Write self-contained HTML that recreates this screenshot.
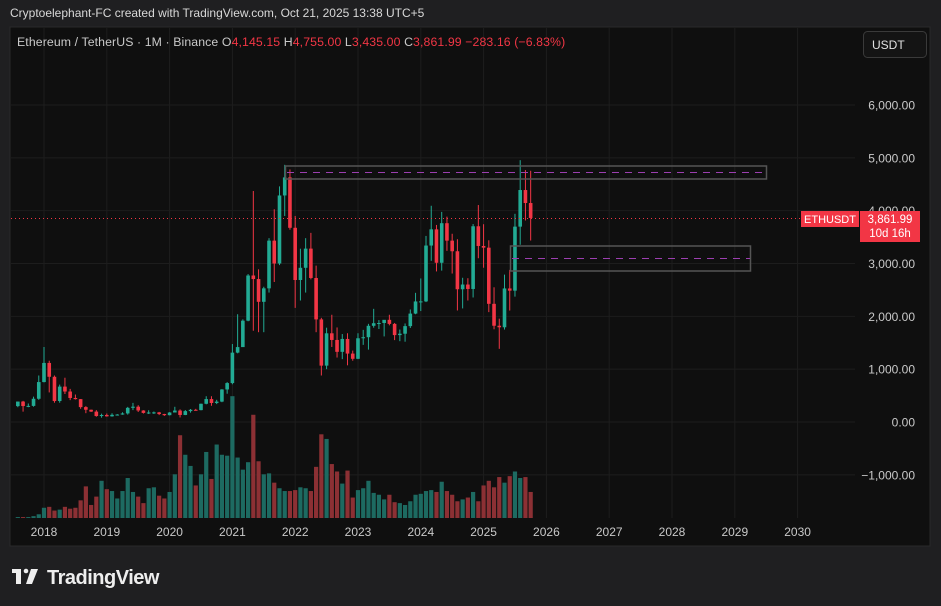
<!DOCTYPE html>
<html><head><meta charset="utf-8"><style>
html,body{margin:0;padding:0;background:#1f1f21;width:941px;height:606px;overflow:hidden;font-family:"Liberation Sans",sans-serif}
#top{position:absolute;left:10px;top:6px;color:#d8d8d8;font-size:12px}
svg{position:absolute;left:0;top:0}
</style></head><body>
<div id="top">Cryptoelephant-FC created with TradingView.com, Oct 21, 2025 13:38 UTC+5</div>
<svg id="s" width="941" height="606" xmlns="http://www.w3.org/2000/svg" font-family="Liberation Sans, sans-serif"></svg>
<script>
const s=document.getElementById('s');let h='';
h+='<rect x="10" y="27" width="920" height="519" fill="#0f0f0f" stroke="#2a2a2a"/>';
const X=m=>44+m*5.233, Y=p=>422-p*0.05283;
for(let k=0;k<13;k++){const x=44+k*62.8;h+=`<line x1="${x}" y1="28" x2="${x}" y2="518" stroke="#1d1d1d"/>`;}
for(let p=-1000;p<=6000;p+=1000){const y=Y(p);h+=`<line x1="11" y1="${y}" x2="855" y2="${y}" stroke="#1d1d1d"/>`;
 h+=`<text x="915" y="${y+4.5}" fill="#c9c9c9" font-size="12" text-anchor="end">${p<0?'−1,000.00':(p/1000).toFixed(0)+(p?',000.00':'.00')}</text>`;}
['2018','2019','2020','2021','2022','2023','2024','2025','2026','2027','2028','2029','2030'].forEach((t,k)=>{h+=`<text x="${44+k*62.8}" y="536" fill="#c9c9c9" font-size="12" text-anchor="middle">${t}</text>`});
const c=[[301,388,280,387],[387,400,196,302],[302,350,280,305],[305,480,290,440],[440,880,420,756],
[756,1420,750,1118],[1118,1160,560,856],[856,880,365,397],[397,708,365,670],[670,838,530,577],[577,627,414,455],[455,520,425,433],[433,435,250,282],[282,300,167,232],[232,235,190,197],[197,225,100,113],[113,158,82,133],
[133,160,101,107],[107,165,101,136],[136,150,122,141],[141,184,137,162],[162,286,140,268],[268,362,225,290],[290,318,190,218],[218,224,160,172],[172,222,151,180],[180,198,152,182],[182,191,131,151],[151,155,116,129],
[129,187,126,180],[180,288,214,217],[217,239,86,133],[133,227,130,206],[206,246,177,231],[231,249,215,225],[225,348,221,345],[345,488,335,434],[434,488,307,360],[360,420,339,386],[386,622,375,616],[616,755,535,737],
[737,1476,714,1313],[1313,2040,1300,1418],[1418,1943,1431,1918],[1918,2800,1907,2773],[2773,4372,1728,2706],[2706,2890,1700,2275],[2275,2560,1700,2530],[2530,3480,2450,3433],[3433,4027,2650,3000],[3000,4460,2970,4288],[4288,4868,3900,4630],[4630,4780,3640,3676],
[3676,3900,2160,2688],[2688,3280,2300,2919],[2919,3480,2450,3282],[3282,3580,2700,2726],[2726,2960,1700,1942],[1942,1972,880,1067],[1067,1785,1000,1679],[1679,2030,1420,1553],[1553,1790,1220,1328],[1328,1665,1190,1572],[1572,1680,1073,1295],[1295,1352,1160,1196],
[1196,1680,1190,1585],[1585,1744,1460,1605],[1605,1858,1370,1821],[1821,2142,1785,1870],[1870,1929,1760,1874],[1874,1930,1620,1934],[1934,2030,1830,1857],[1857,1875,1550,1645],[1645,1750,1530,1671],[1671,1865,1520,1815],[1815,2130,1780,2052],[2052,2445,2040,2282],
[2282,2717,2100,2283],[2283,3522,2270,3340],[3340,4093,3050,3647],[3647,3730,2850,3014],[3014,3977,2865,3763],[3763,3887,3240,3433],[3433,3563,2810,3232],[3232,3460,2111,2513],[2513,2730,2150,2602],[2602,2722,2300,2518],[2518,3747,2357,3705],[3705,4107,3100,3332],
[3332,3744,2920,3300],[3300,3440,2080,2237],[2237,2550,1755,1822],[1822,1956,1385,1793],[1793,2790,1750,2528],[2528,2880,2110,2486],[2486,3941,2373,3698],[3698,4956,3355,4391],[4391,4769,3815,4145],[4145,4755,3435,3862]];
const v=[1,1,1,2,4,11,12,8,9,12,10,11,19,34,14,23,40,31,29,21,29,43,28,23,16,32,33,24,21,28,47,89,68,56,35,47,71,42,79,68,67,131,65,52,60,111,61,47,48,38,32,29,29,30,33,32,29,55,90,85,58,50,37,51,22,30,32,40,27,25,20,25,17,16,14,18,25,26,29,30,28,39,29,25,18,20,22,28,18,35,40,33,44,38,45,50,43,44,28];
c.forEach((d,i)=>{const m=i-5,x=X(m),up=d[3]>=d[0];
 const vh=(v[i]||10)*0.93;h+=`<rect x="${x-2.1}" y="${518-vh}" width="4.2" height="${vh}" fill="${up?'#1d6a61':'#8c3034'}"/>`;});
c.forEach((d,i)=>{const m=i-5,x=X(m),up=d[3]>=d[0],col=up?'#22ab94':'#f23645';
 h+=`<line x1="${x}" y1="${Y(d[1])}" x2="${x}" y2="${Y(d[2])}" stroke="${col}" stroke-width="1"/>`;
 const a=Y(Math.max(d[0],d[3])),b=Y(Math.min(d[0],d[3]));h+=`<rect x="${x-1.8}" y="${a}" width="3.6" height="${Math.max(1,b-a)}" fill="${col}"/>`;});
h+='<rect x="285.5" y="166" width="481" height="13" fill="none" stroke="#555" stroke-width="1.5"/><line x1="287" y1="172.5" x2="766" y2="172.5" stroke="#9c3fb0" stroke-dasharray="7,6"/>';
h+='<rect x="510.5" y="246" width="240" height="25" fill="none" stroke="#555" stroke-width="1.5"/><line x1="512" y1="258.5" x2="750" y2="258.5" stroke="#9c3fb0" stroke-dasharray="7,6"/>';
h+=`<line x1="11" y1="218.5" x2="800" y2="218.5" stroke="#f23645" stroke-dasharray="1,3"/>`;
h+='<rect x="801" y="211" width="58" height="16" fill="#f23645"/><text x="830" y="223" fill="#fff" font-size="11" text-anchor="middle">ETHUSDT</text>';
h+='<rect x="860" y="211" width="60" height="31" fill="#f23645"/><text x="890" y="223" fill="#fff" font-size="11.5" text-anchor="middle">3,861.99</text><text x="890" y="237" fill="#fff" font-size="11.5" text-anchor="middle">10d 16h</text>';
h+='<rect x="863.5" y="31.5" width="63" height="26" rx="4" fill="#141414" stroke="#3a3a3a"/><text x="872" y="49" fill="#e0e0e0" font-size="12">USDT</text>';
h+='<text x="17" y="46" font-size="12.3" letter-spacing="0.1" fill="#c9c9c9">Ethereum / TetherUS · 1M · Binance  O<tspan fill="#f23645">4,145.15</tspan>  H<tspan fill="#f23645">4,755.00</tspan>  L<tspan fill="#f23645">3,435.00</tspan>  C<tspan fill="#f23645">3,861.99  −283.16 (−6.83%)</tspan></text>';
h+='<rect x="12" y="569" width="9" height="4" fill="#eee"/><rect x="16" y="569" width="5" height="15" fill="#eee"/><circle cx="26" cy="571" r="2.3" fill="#eee"/><polygon points="31,569 38,569 32,584 26,584" fill="#eee"/>';
h+='<text x="47" y="584" fill="#eee" font-size="20" font-weight="bold" letter-spacing="-0.5">TradingView</text>';
s.innerHTML=h;
</script>
</body></html>
